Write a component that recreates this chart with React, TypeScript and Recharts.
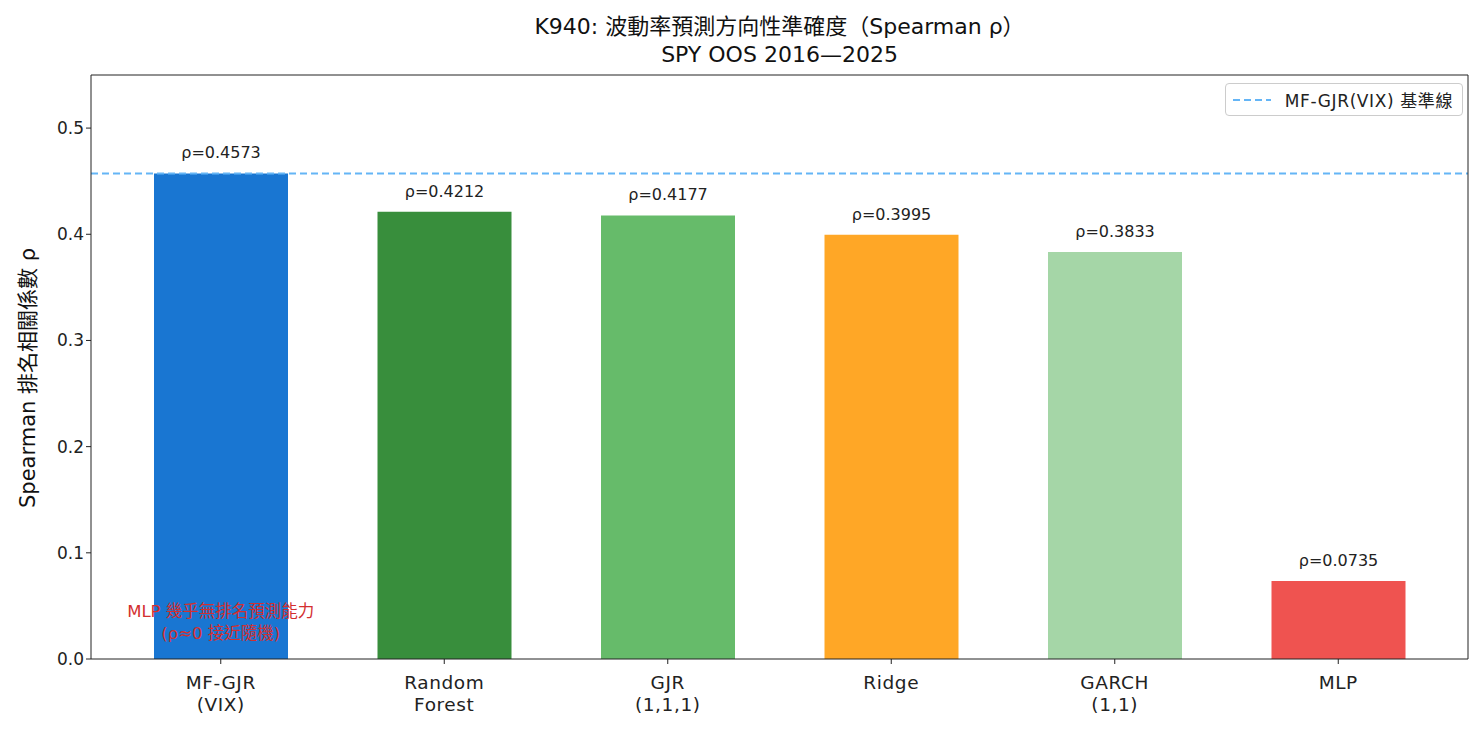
import React from 'react';
import {
  BarChart, Bar, XAxis, YAxis, Cell, LabelList, ReferenceLine, ReferenceDot,
} from 'recharts';

const models = ['MF-GJR\n(VIX)', 'Random\nForest', 'GJR\n(1,1,1)', 'Ridge', 'GARCH\n(1,1)', 'MLP'];
const rho = [0.4573, 0.4212, 0.4177, 0.3995, 0.3833, 0.0735];
const colors = ['#1976D2', '#388E3C', '#66BB6A', '#FFA726', '#A5D6A7', '#EF5350'];
const yTicks = [0, 0.1, 0.2, 0.3, 0.4, 0.5];
const baseline = 0.4573;

const data = models.map((m, i) => ({ model: m, rho: rho[i] }));

const FONT = '"DejaVu Sans", "Noto Sans CJK TC", sans-serif';

const XTick = (props: any) => {
  const { x, y, payload } = props;
  const lines = String(payload.value).split('\n');
  return (
    <text x={x} y={y + 23} textAnchor="middle" fontSize={18.5} letterSpacing={0.6} fill="#222" fontFamily={FONT}>
      {lines.map((l, i) => (
        <tspan key={i} x={x} dy={i === 0 ? 0 : 22}>{l}</tspan>
      ))}
    </text>
  );
};

const LegendBox = () => (
  <div style={{
    position: 'absolute', right: 20, top: 83, height: 33, boxSizing: 'border-box',
    border: '1px solid #ccc', borderRadius: 4, background: '#fff', padding: '0 9px 0 7px',
    display: 'flex', alignItems: 'center', fontSize: 17, letterSpacing: 0.6, fontFamily: FONT, color: '#222',
  }}>
    <svg width={38} height={10} style={{ marginRight: 14 }}>
      <line x1={0} y1={5} x2={38} y2={5} stroke="#64B5F6" strokeWidth={2} strokeDasharray="7 4" />
    </svg>
    MF-GJR(VIX) 基準線
  </div>
);

const NoteLabel = (props: any) => {
  const { viewBox } = props;
  const cx = viewBox.x + (viewBox.width || 0) / 2;
  const cy = viewBox.y + (viewBox.height || 0) / 2;
  return (
    <text x={cx} y={cy} textAnchor="middle" fontSize={16.5} fill="#D32F2F" fontFamily={FONT}>
      <tspan x={cx} dy={-5}>MLP 幾乎無排名預測能力</tspan>
      <tspan x={cx} dy={22}>(ρ≈0 接近隨機)</tspan>
    </text>
  );
};

export default function App() {
  return (
    <div style={{ position: 'absolute', left: 0, top: 0, width: 1483, height: 732, background: '#fff', fontFamily: FONT }}>
      <div style={{ position: 'absolute', left: 91, width: 1377, top: 13, textAlign: 'center', fontSize: 22, color: '#111', lineHeight: '28px' }}>
        <div>K940: 波動率預測方向性準確度（Spearman ρ）</div>
        <div>SPY OOS 2016—2025</div>
      </div>
      <div style={{
        position: 'absolute', left: 26, top: 378, transform: 'translate(-50%, -50%) rotate(-90deg)',
        whiteSpace: 'nowrap', fontSize: 21, color: '#111',
      }}>
        Spearman 排名相關係數 ρ
      </div>
      <BarChart
        width={1483}
        height={732}
        data={data}
        margin={{ top: 74, right: 14, bottom: 43, left: 31 }}
        barCategoryGap={0}
        style={{ position: 'absolute', left: 0, top: 0 }}
      >
        <XAxis
          dataKey="model"
          interval={0}
          tick={<XTick />}
          tickLine={{ stroke: '#222' }}
          tickSize={5}
          axisLine={{ stroke: '#222' }}
          padding={{ left: 18, right: 18 }}
          height={30}
        />
        <XAxis xAxisId="top" orientation="top" dataKey="model" tick={false} tickLine={false} axisLine={{ stroke: '#222' }} height={1} />
        <YAxis
          domain={[0, 0.55]}
          ticks={yTicks}
          tickFormatter={(v: number) => v.toFixed(1)}
          tick={{ fontSize: 17, fill: '#222', fontFamily: FONT }}
          tickLine={{ stroke: '#222' }}
          tickSize={5}
          axisLine={{ stroke: '#222' }}
          width={60}
          allowDataOverflow
        />
        <YAxis yAxisId="right" orientation="right" tick={false} tickLine={false} axisLine={{ stroke: '#222' }} width={1} />
        <Bar dataKey="rho" barSize={134} isAnimationActive={false}>
          {data.map((d, i) => (
            <Cell key={d.model} fill={colors[i]} />
          ))}
          <LabelList
            dataKey="rho"
            position="top"
            offset={15}
            formatter={(v: any) => `ρ=${Number(v).toFixed(4)}`}
            style={{ fontSize: 16, fill: '#222', fontFamily: FONT }}
          />
        </Bar>
        <ReferenceLine y={baseline} stroke="#64B5F6" strokeWidth={2} strokeDasharray="7 4" />
        <ReferenceDot x={models[0]} y={0.035} r={0} fill="none" stroke="none" label={<NoteLabel />} />
      </BarChart>
      <LegendBox />
    </div>
  );
}
